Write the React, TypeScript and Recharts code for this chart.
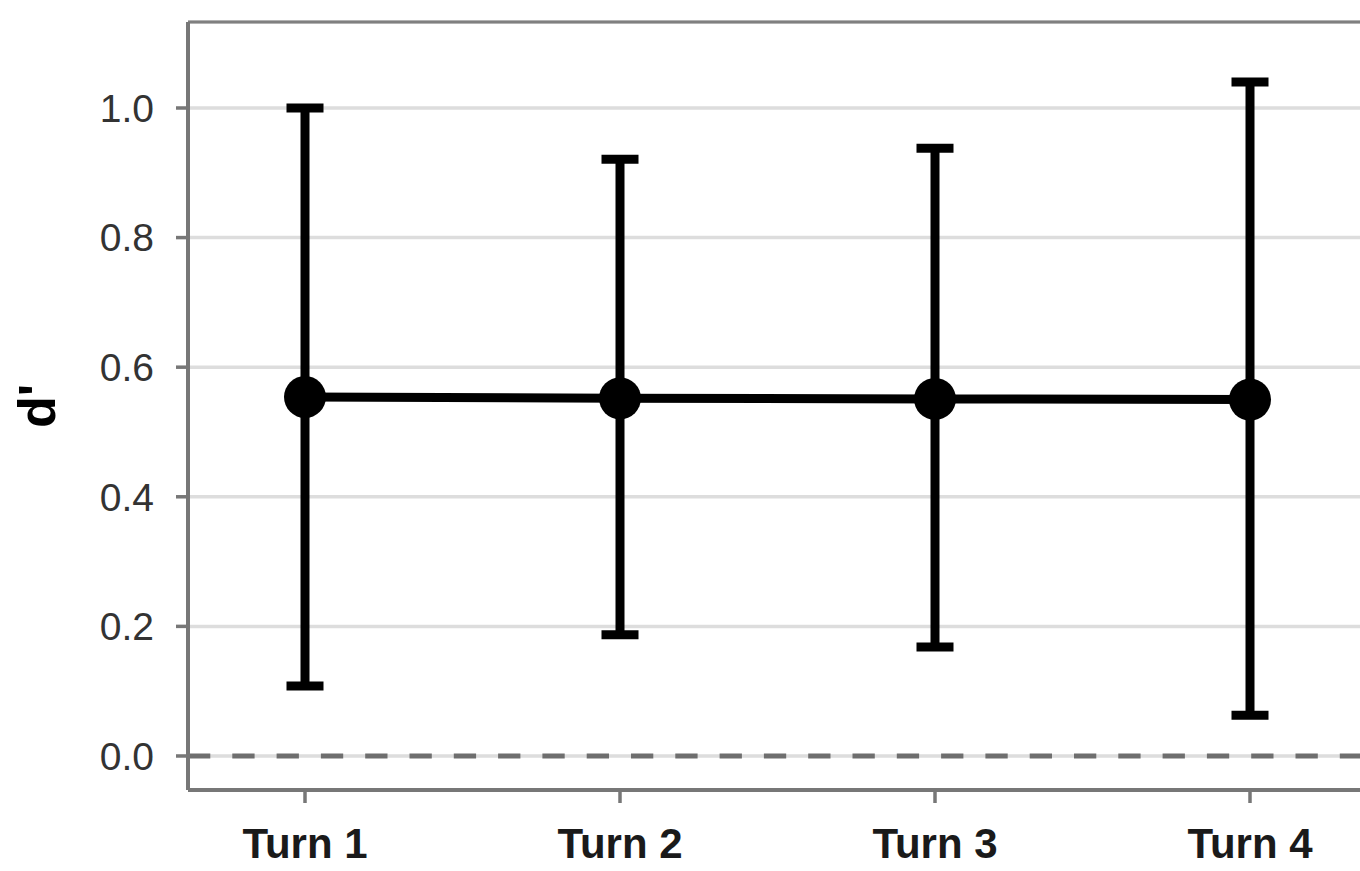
import { LineChart, Line, XAxis, YAxis, CartesianGrid, ReferenceLine, ErrorBar } from 'recharts';

// d' per turn with 95% interval bounds
const turns = ['Turn 1', 'Turn 2', 'Turn 3', 'Turn 4'];
const dPrime = [0.554, 0.552, 0.551, 0.55];
const ciLow = [0.108, 0.187, 0.168, 0.063];
const ciHigh = [1.0, 0.921, 0.938, 1.04];
const yTicks = [0, 0.2, 0.4, 0.6, 0.8, 1.0];
const yDomain = [-0.0525, 1.1327];

const data = turns.map((turn, i) => ({
  turn,
  d: dPrime[i],
  err: [dPrime[i] - ciLow[i], ciHigh[i] - dPrime[i]],
}));

const FONT = '"Liberation Sans", Arial, Helvetica, sans-serif';
const AXIS = '#777777';

export default function App() {
  return (
    <div
      style={{
        position: 'absolute',
        left: 0,
        top: 0,
        width: 1360,
        height: 871,
        overflow: 'hidden',
        background: '#ffffff',
      }}
    >
      <LineChart
        width={1400}
        height={871}
        data={data}
        margin={{ top: 22, right: 33, bottom: 0, left: 0 }}
        style={{ fontFamily: FONT }}
      >
        <CartesianGrid horizontal vertical={false} stroke="#dddddd" strokeWidth={3.5} />
        <XAxis
          dataKey="turn"
          type="category"
          scale="point"
          padding={{ left: 117, right: 117 }}
          height={81}
          axisLine={{ stroke: AXIS, strokeWidth: 4 }}
          tickLine={{ stroke: AXIS, strokeWidth: 3.5 }}
          tickSize={13}
          tickMargin={25}
          tick={{ fontSize: 42, fontWeight: 'bold', fill: '#1a1a1a', fontFamily: FONT }}
        />
        <YAxis
          type="number"
          domain={yDomain}
          ticks={yTicks}
          allowDataOverflow
          width={188}
          axisLine={{ stroke: AXIS, strokeWidth: 4 }}
          tickLine={{ stroke: AXIS, strokeWidth: 3.5 }}
          tickSize={12}
          tickMargin={22}
          tickFormatter={(v: number) => v.toFixed(1)}
          tick={{ fontSize: 39, fill: '#333333', fontFamily: FONT }}
          label={{
            content: () => (
              <text
                x={55}
                y={406}
                transform="rotate(-90 55 406)"
                textAnchor="middle"
                fontSize={52}
                fontWeight="bold"
                fill="#000000"
                fontFamily={FONT}
              >
                d'
              </text>
            ),
          }}
        />
        <ReferenceLine y={yDomain[1]} stroke="#808080" strokeWidth={3} />
        <ReferenceLine y={0} stroke="#6e6e6e" strokeWidth={5} strokeDasharray="22.3 22" />
        <Line
          type="linear"
          dataKey="d"
          stroke="#000000"
          strokeWidth={9}
          dot={{ r: 21, fill: '#000000', stroke: 'none' }}
          activeDot={false}
          isAnimationActive={false}
        >
          <ErrorBar dataKey="err" direction="y" width={18.5} strokeWidth={9} stroke="#000000" />
        </Line>
      </LineChart>
    </div>
  );
}
